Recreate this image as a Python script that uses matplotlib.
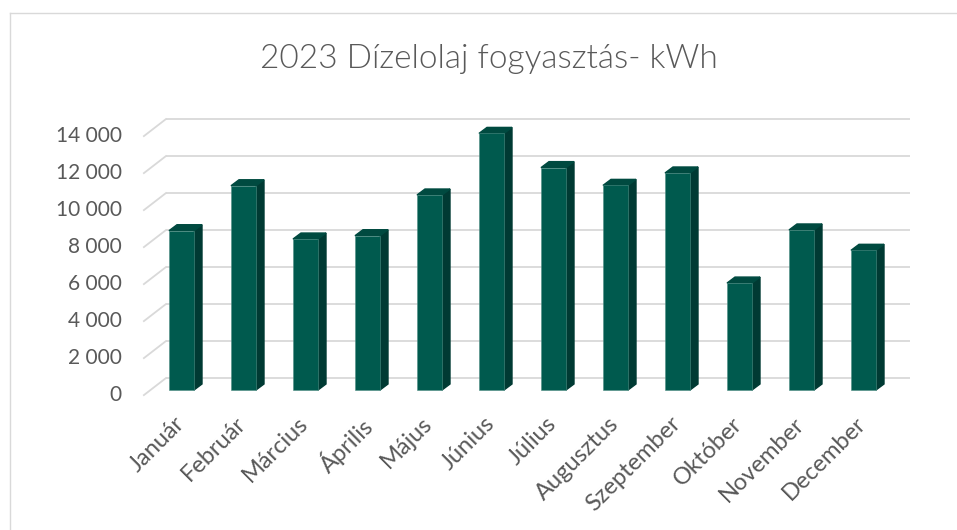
import matplotlib
matplotlib.use("Agg")
import matplotlib.pyplot as plt
from matplotlib.patches import Polygon
from matplotlib.lines import Line2D

# data
months = ["Január", "Február", "Március", "Április", "Május", "Június",
          "Július", "Augusztus", "Szeptember", "Október", "November", "December"]
consumption = [8610, 11040, 8160, 8340, 10540, 13870,
               12020, 11060, 11730, 5780, 8650, 7550]
y_ticks = [0, 2000, 4000, 6000, 8000, 10000, 12000, 14000]
y_labels = ["0", "2 000", "4 000", "6 000", "8 000", "10 000", "12 000", "14 000"]
title = "2023 Dízelolaj fogyasztás- kWh"

FRONT = "#005a4e"
SIDE = "#003a33"
TOP = "#004a40"
GRID = "#d9d9d9"
TEXT = "#595959"

plt.rcParams["font.family"] = ["Lato", "DejaVu Sans"]

W, H = 957, 530
fig = plt.figure(figsize=(W / 100, H / 100), dpi=100)

# chart area border (only top and left are visible in the crop)
fig.add_artist(Line2D([9.5 / W, 9.5 / W], [0, 1 - 12.5 / H], color=GRID, lw=1))
fig.add_artist(Line2D([9.5 / W, 1], [1 - 12.5 / H, 1 - 12.5 / H], color=GRID, lw=1))

fig.text(489 / W, 1 - 68 / H, title, ha="center", va="baseline",
         fontsize=24, color=TEXT, fontweight=300)

# axes = plane of the bar front faces
ax = fig.add_axes([150.5 / W, 140 / H, 744 / W, 259 / H])
ax.set_xlim(-0.5, 11.5)
ax.set_ylim(0, 14000)
ax.axis("off")

ppx = 744 / 12      # pixels per category
ppy = 259 / 14000   # pixels per kWh


def off(dx_px, dy_px):
    # screen pixel offset (y down) -> data offset
    return dx_px / ppx, -dy_px / ppy


fx, fy = off(-6.6, 5.1)    # front edge of the floor
bx, by = off(15.4, -11.9)  # back wall
dx, dy = off(8, -6)        # bar depth

x0, x1 = ax.get_xlim()
for t, lab in zip(y_ticks, y_labels):
    ax.plot([x0 + bx, x1 + bx], [t + by, t + by], color=GRID, lw=1.3,
            clip_on=False, zorder=0, solid_capstyle="butt")
    ax.plot([x0 + fx, x0 + bx], [t + fy, t + by], color=GRID, lw=1.3,
            clip_on=False, zorder=0)
    ax.text(x0 + fx - 22 / ppx, t + fy, lab, ha="right", va="center",
            fontsize=15, color=TEXT)

bw = 25 / ppx
xs = list(range(len(months)))
ax.bar(xs, consumption, width=bw, color=FRONT, edgecolor="#4f8f85",
       linewidth=0.4, zorder=3, clip_on=False)
for x, v in zip(xs, consumption):
    r = x + bw / 2
    l = x - bw / 2
    ax.add_patch(Polygon([(r, 0), (r + dx, dy), (r + dx, v + dy), (r, v)],
                         closed=True, color=SIDE, zorder=2, clip_on=False))
    ax.add_patch(Polygon([(l, v), (r, v), (r + dx, v + dy), (l + dx, v + dy)],
                         closed=True, color=TOP, zorder=2, clip_on=False))

for x, m in zip(xs, months):
    ax.text(x - 8 / ppx, -23 / ppy, m, ha="right", va="top", rotation=45,
            rotation_mode="anchor", fontsize=17, color=TEXT)

fig.savefig("out.png", dpi=100)
